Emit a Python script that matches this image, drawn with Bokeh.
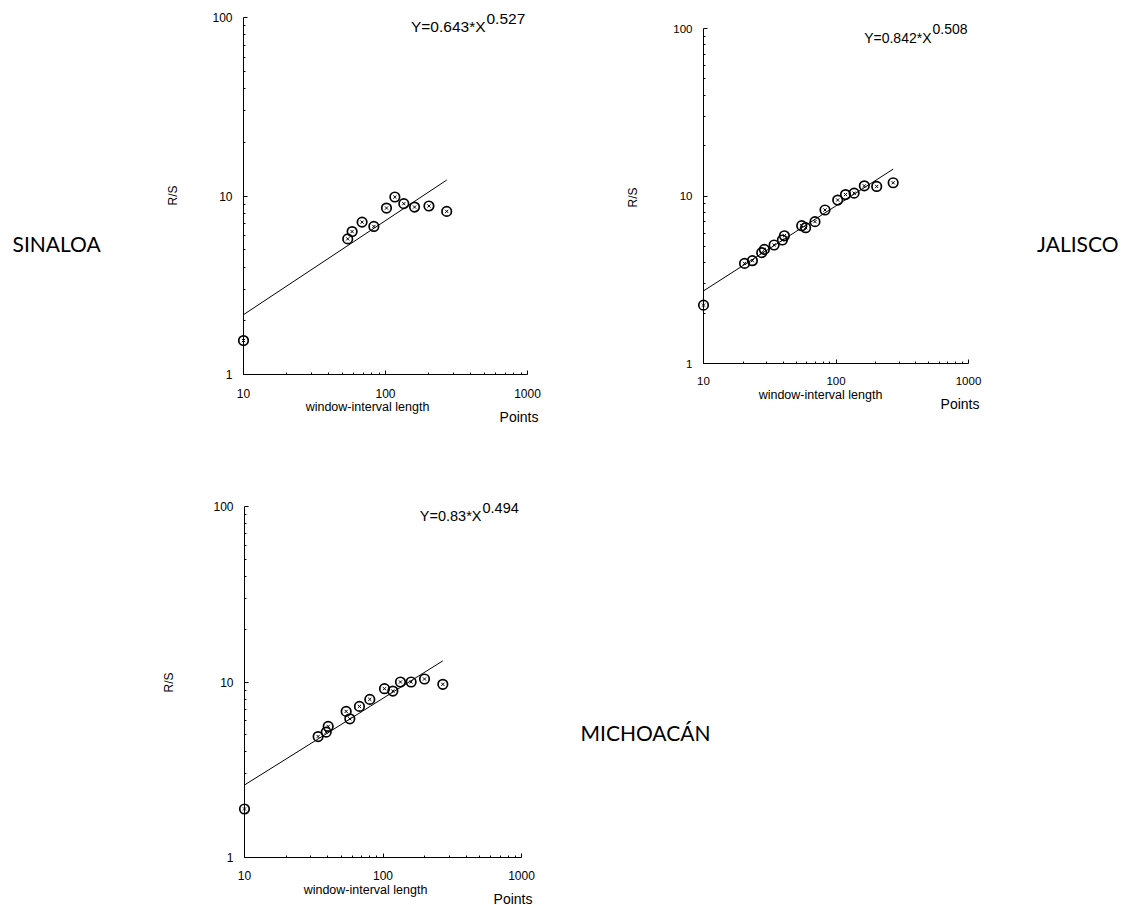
import math
from bokeh.plotting import figure
from bokeh.layouts import column, row
from bokeh.models import Range1d, FixedTicker, PrintfTickFormatter, Label
from bokeh.embed import file_html
from bokeh.resources import INLINE

# ---------------- data ----------------
states = ["SINALOA", "JALISCO", "MICHOACÁN"]

sin_x = [10, 54.2, 58.2, 68.4, 82.8, 101.6, 116.4, 134.6, 160.2, 202.3, 269.8]
sin_y = [1.55, 5.75, 6.32, 7.14, 6.75, 8.56, 9.87, 9.06, 8.67, 8.79, 8.20]

jal_x = [10, 20.4, 23.4, 27.5, 28.8, 34.1, 39.4, 40.8, 55.1, 59.0, 69.4, 82.6,
         103, 118, 137, 163.6, 202.8, 270]
jal_y = [2.23, 3.96, 4.11, 4.59, 4.80, 5.10, 5.46, 5.79, 6.65, 6.47, 7.03, 8.25,
         9.46, 10.2, 10.4, 11.5, 11.4, 12.0]

mic_x = [10, 34.0, 38.9, 40.2, 54.2, 57.6, 67.6, 80.3, 102.5, 117.8, 133.7,
         159.6, 199.4, 270.4]
mic_y = [1.89, 4.89, 5.18, 5.58, 6.80, 6.17, 7.26, 7.96, 9.16, 8.88, 10.0,
         10.0, 10.4, 9.70]

fit_a = [0.643, 0.842, 0.83]
fit_b = [0.527, 0.508, 0.494]
fit_a_txt = ["0.643", "0.842", "0.83"]
fit_b_txt = ["0.527", "0.508", "0.494"]

x_ticks = [10, 100, 1000]
x_minor = [20, 30, 40, 50, 60, 70, 80, 90, 200, 300, 400, 500, 600, 700, 800, 900]
y_ticks = [1, 10, 100]
y_minor = [2, 3, 4, 5, 6, 7, 8, 9, 20, 30, 40, 50, 60, 70, 80, 90]

AX_FONT = "Liberation Sans"
STATE_FONT = "Lato"


def make_panel(xs, ys, a, b, a_txt, b_txt, state, g):
    # g holds page-pixel geometry: canvas box and where the axes sit
    dx = (g["ax_right"] - g["ax_left"]) / 2.0
    dy = (g["ax_bottom"] - g["ax_top"]) / 2.0
    x0r = 10 ** (1 + (g["cx"] - g["ax_left"]) / dx)
    x1r = 10 ** (1 + (g["cx"] + g["cw"] - g["ax_left"]) / dx)
    y0r = 10 ** ((g["ax_bottom"] - (g["cy"] + g["ch"])) / dy)
    y1r = 10 ** ((g["ax_bottom"] - g["cy"]) / dy)

    p = figure(
        x_axis_type="log", y_axis_type="log",
        x_range=Range1d(x0r, x1r), y_range=Range1d(y0r, y1r),
        frame_width=g["cw"], frame_height=g["ch"],
        min_border=0, min_border_left=0, min_border_right=0,
        min_border_top=0, min_border_bottom=0,
        output_backend="svg", toolbar_location=None,
    )
    p.outline_line_color = None
    p.xgrid.visible = False
    p.ygrid.visible = False
    p.background_fill_color = "white"
    p.border_fill_color = "white"

    for ax in (p.xaxis[0], p.yaxis[0]):
        ax.axis_line_color = "black"
        ax.axis_line_width = 1
        ax.major_tick_line_color = "black"
        ax.minor_tick_line_color = "black"
        ax.major_tick_in = 4
        ax.major_tick_out = 0
        ax.minor_tick_in = 2
        ax.minor_tick_out = 0
        ax.major_label_text_font = AX_FONT
        ax.major_label_text_font_size = g["tick_fs"]
        ax.major_label_text_color = "black"
        ax.formatter = PrintfTickFormatter(format="%d")

    xa = p.xaxis[0]
    xa.ticker = FixedTicker(ticks=x_ticks, minor_ticks=x_minor)
    xa.fixed_location = 1
    xa.bounds = (10, 1000)
    xa.major_label_standoff = g["x_standoff"]

    ya = p.yaxis[0]
    ya.ticker = FixedTicker(ticks=y_ticks, minor_ticks=y_minor)
    ya.fixed_location = 10
    ya.bounds = (1, 100)
    ya.major_label_standoff = 11

    # fitted power law, drawn between the smallest and largest window length
    x0, x1 = min(xs), max(xs)
    p.line([x0, x1], [a * x0 ** b, a * x1 ** b], line_color="black", line_width=1)

    p.scatter(xs, ys, marker="circle", size=9.5, fill_color=None,
              line_color="black", line_width=1.7)
    p.scatter(xs, ys, marker="x", size=4.5, line_color="black", line_width=1)

    fl, fb = g["cx"], g["cy"] + g["ch"]

    def lab(px, py, text, size, align="left", font=AX_FONT, angle=0.0):
        p.add_layout(Label(x=px - fl, y=fb - py, x_units="screen", y_units="screen",
                           text=text, text_font=font, text_font_size=size,
                           text_align=align, text_baseline="middle", angle=angle,
                           text_color="black"))

    lab(g["eq_x"], g["eq_y"], "Y=" + a_txt + "*X", g["eq_fs"], "right")
    lab(g["eq_x"] + 1, g["sup_y"], b_txt, g["eq_fs"], "left")
    lab(g["wl_x"], g["wl_y"], "window-interval length", "12.5px", "center")
    lab(g["pt_x"], g["pt_y"], "Points", "14px", "right")
    lab(g["rs_x"], g["rs_y"], "R/S", "12px", "center", angle=math.pi / 2)
    lab(g["st_x"], g["st_y"], state, "21px", g["st_align"], STATE_FONT)
    return p


geo_sin = dict(cx=0, cy=0, cw=600, ch=460, ax_left=243, ax_right=527, ax_top=17,
               ax_bottom=374, tick_fs="12px", x_standoff=14,
               eq_x=485, eq_y=26, sup_y=18, eq_fs="15.5px", wl_x=367, wl_y=406,
               pt_x=538, pt_y=416, rs_x=172, rs_y=195,
               st_x=12, st_y=243, st_align="left")
geo_jal = dict(cx=600, cy=0, cw=526, ch=460, ax_left=703, ax_right=968, ax_top=28,
               ax_bottom=363, tick_fs="11.5px", x_standoff=13,
               eq_x=931, eq_y=37, sup_y=28.5, eq_fs="14px", wl_x=820, wl_y=394,
               pt_x=979, pt_y=403, rs_x=632, rs_y=197,
               st_x=1118, st_y=243, st_align="right")
geo_mic = dict(cx=0, cy=460, cw=800, ch=445, ax_left=244, ax_right=521, ax_top=506,
               ax_bottom=857, tick_fs="12px", x_standoff=13,
               eq_x=481, eq_y=515.5, sup_y=507, eq_fs="14.5px", wl_x=365, wl_y=889,
               pt_x=532, pt_y=898, rs_x=168, rs_y=682,
               st_x=645, st_y=732, st_align="center")

p1 = make_panel(sin_x, sin_y, fit_a[0], fit_b[0], fit_a_txt[0], fit_b_txt[0], states[0], geo_sin)
p2 = make_panel(jal_x, jal_y, fit_a[1], fit_b[1], fit_a_txt[1], fit_b_txt[1], states[1], geo_jal)
p3 = make_panel(mic_x, mic_y, fit_a[2], fit_b[2], fit_a_txt[2], fit_b_txt[2], states[2], geo_mic)

layout = column(row(p1, p2), p3)

open("out.html", "w").write(file_html(layout, INLINE))
